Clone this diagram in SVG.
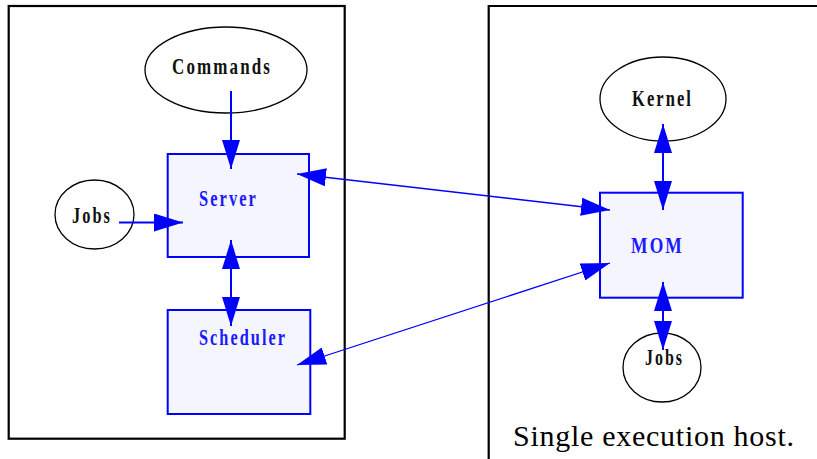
<svg xmlns="http://www.w3.org/2000/svg" width="817" height="459" viewBox="0 0 817 459">
<style>
.frame{fill:none;stroke:#000;stroke-width:2.2}
.ell{fill:#fff;stroke:#000;stroke-width:1.3}
.box{fill:#f5f5fe;stroke:#0000ff;stroke-width:2}
.lbl{font-family:"Liberation Serif","Times New Roman",serif;font-weight:bold;font-size:24px;letter-spacing:3px}
.blk{fill:#111}
.blu{fill:#1a1aff}
.cap{font-family:"Liberation Serif","Times New Roman",serif;font-size:30px;fill:#000}
.c{stroke:#0000ff;fill:none}
.thick{stroke-width:2}
.thin{stroke-width:1.3}
</style>
<defs>
<marker id="ah" markerUnits="userSpaceOnUse" markerWidth="30" markerHeight="18" refX="29" refY="9" orient="auto-start-reverse">
<path d="M0,0 L29,9 L0,18 Z" fill="#0000ff"/>
</marker>
</defs>
<g id="frames">
<rect class="frame" x="8.7" y="6" width="336" height="432.7"/>
<path class="frame" d="M488.7,470 V6 H830"/>
</g>
<g id="commands">
<ellipse class="ell" cx="226" cy="70" rx="81" ry="43"/>
<text class="lbl blk" x="172" y="74" textLength="100" lengthAdjust="spacingAndGlyphs">Commands</text>
</g>
<g id="jobs-left">
<ellipse class="ell" cx="94.5" cy="214.5" rx="39.5" ry="34.5"/>
<text class="lbl blk" x="72" y="223" textLength="40" lengthAdjust="spacingAndGlyphs">Jobs</text>
</g>
<g id="server">
<rect class="box" x="167.7" y="154" width="141.3" height="103"/>
<text class="lbl blu" x="199" y="206" textLength="59" lengthAdjust="spacingAndGlyphs">Server</text>
</g>
<g id="scheduler">
<rect class="box" x="167.7" y="310" width="142.6" height="104"/>
<text class="lbl blu" x="199" y="345" textLength="88" lengthAdjust="spacingAndGlyphs">Scheduler</text>
</g>
<g id="kernel">
<ellipse class="ell" cx="663" cy="99" rx="63" ry="42"/>
<text class="lbl blk" x="632" y="106" textLength="61" lengthAdjust="spacingAndGlyphs">Kernel</text>
</g>
<g id="mom">
<rect class="box" x="600" y="192.7" width="142.7" height="105"/>
<text class="lbl blu" x="631" y="253" textLength="53" lengthAdjust="spacingAndGlyphs">MOM</text>
</g>
<g id="jobs-right">
<ellipse class="ell" cx="662" cy="367.5" rx="39" ry="34.5"/>
<text class="lbl blk" x="645" y="365" textLength="39" lengthAdjust="spacingAndGlyphs">Jobs</text>
</g>
<g id="connectors">
<line class="c thick" x1="231" y1="91" x2="231" y2="169" marker-end="url(#ah)"/>
<line class="c thick" x1="119" y1="222.5" x2="183" y2="222.5" marker-end="url(#ah)"/>
<line class="c thick" x1="231" y1="240" x2="231" y2="326" marker-start="url(#ah)" marker-end="url(#ah)"/>
<line class="c thin" x1="297" y1="174" x2="610" y2="210" marker-start="url(#ah)" marker-end="url(#ah)"/>
<line class="c thin" x1="297" y1="365" x2="610" y2="263" marker-start="url(#ah)" marker-end="url(#ah)"/>
<line class="c thick" x1="663" y1="124" x2="663" y2="210" marker-start="url(#ah)" marker-end="url(#ah)"/>
<line class="c thick" x1="663" y1="282" x2="663" y2="350" marker-start="url(#ah)" marker-end="url(#ah)"/>
</g>
<text class="cap" x="513" y="446" textLength="281">Single execution host.</text>
</svg>
